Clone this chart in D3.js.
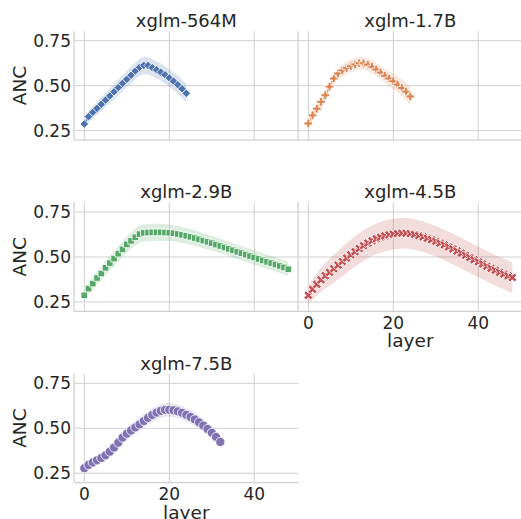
<!DOCTYPE html>
<html><head><meta charset="utf-8">
<script src="https://cdn.jsdelivr.net/npm/d3@7"></script>
<style>
body{margin:0;background:#fff}
svg{display:block}
text{font-family:"DejaVu Sans",sans-serif;fill:#262626}
</style>
</head><body>
<svg id="chart" width="521" height="519"></svg>
<script>
const models = ["xglm-564M","xglm-1.7B","xglm-2.9B","xglm-4.5B","xglm-7.5B"];
const colors = ["#4c72b0","#dd8452","#55a868","#c44e52","#8172b3"];
const markerTypes = ["diamond","plus","square","x","circle"];
const yTicks = [0.25,0.5,0.75];
const xTicks = [0,20,40];

const anc564M = [0.287,0.328,0.352,0.374,0.397,0.42,0.443,0.466,0.49,0.513,
  0.536,0.558,0.582,0.602,0.613,0.612,0.6,0.588,0.575,0.56,
  0.543,0.525,0.505,0.483,0.458];
const ci564M = [0.03,0.032,0.034,0.036,0.038,0.04,0.04,0.042,0.043,0.044,
  0.045,0.046,0.047,0.048,0.048,0.048,0.048,0.048,0.048,0.048,
  0.049,0.05,0.05,0.05,0.05];
const anc1_7B = [0.29,0.335,0.372,0.41,0.447,0.495,0.54,0.568,0.585,0.598,
  0.609,0.618,0.625,0.624,0.617,0.605,0.59,0.573,0.555,0.54,
  0.525,0.506,0.487,0.467,0.44];
const ci1_7B = [0.02,0.022,0.024,0.026,0.028,0.03,0.032,0.033,0.034,0.035,
  0.035,0.035,0.035,0.035,0.035,0.035,0.036,0.037,0.038,0.04,
  0.042,0.044,0.046,0.048,0.05];
const anc2_9B = [0.287,0.324,0.352,0.383,0.408,0.44,0.466,0.491,0.518,0.542,
  0.57,0.59,0.61,0.627,0.634,0.636,0.637,0.637,0.637,0.636,
  0.635,0.632,0.628,0.623,0.618,0.612,0.605,0.598,0.591,0.584,
  0.577,0.569,0.561,0.553,0.545,0.537,0.529,0.521,0.513,0.505,
  0.497,0.489,0.481,0.473,0.466,0.458,0.45,0.442,0.432];
const ci2_9B = [0.03,0.032,0.034,0.036,0.038,0.04,0.041,0.042,0.043,0.044,
  0.045,0.046,0.047,0.048,0.048,0.048,0.048,0.048,0.048,0.047,
  0.046,0.045,0.045,0.044,0.044,0.043,0.043,0.042,0.042,0.041,
  0.041,0.04,0.04,0.04,0.04,0.04,0.04,0.04,0.04,0.04,
  0.04,0.04,0.04,0.04,0.04,0.04,0.04,0.04,0.04];
const anc4_5B = [0.287,0.32,0.348,0.373,0.396,0.415,0.435,0.455,0.475,0.494,
  0.512,0.53,0.547,0.563,0.577,0.59,0.601,0.61,0.617,0.623,
  0.627,0.63,0.632,0.632,0.63,0.625,0.619,0.612,0.604,0.596,
  0.587,0.577,0.567,0.556,0.545,0.533,0.521,0.509,0.497,0.485,
  0.473,0.461,0.449,0.437,0.426,0.415,0.405,0.395,0.386];
const ci4_5B = [0.05,0.056,0.062,0.067,0.071,0.075,0.078,0.08,0.082,0.083,
  0.084,0.085,0.085,0.085,0.085,0.085,0.085,0.085,0.085,0.085,
  0.085,0.085,0.085,0.085,0.085,0.085,0.085,0.085,0.085,0.085,
  0.085,0.085,0.085,0.085,0.085,0.085,0.085,0.085,0.085,0.085,
  0.085,0.085,0.085,0.085,0.085,0.085,0.085,0.085,0.085];
const anc7_5B = [0.278,0.296,0.31,0.322,0.335,0.35,0.37,0.393,0.42,0.448,
  0.47,0.488,0.505,0.522,0.54,0.558,0.574,0.587,0.597,0.602,
  0.603,0.6,0.594,0.586,0.575,0.563,0.549,0.533,0.515,0.496,
  0.475,0.452,0.424];
const ci7_5B = [0.02,0.022,0.024,0.026,0.028,0.03,0.031,0.032,0.033,0.034,
  0.035,0.035,0.035,0.036,0.036,0.037,0.037,0.037,0.037,0.037,
  0.037,0.037,0.037,0.037,0.037,0.037,0.036,0.036,0.035,0.035,
  0.035,0.035,0.035];

const seriesMean = [anc564M, anc1_7B, anc2_9B, anc4_5B, anc7_5B];
const seriesCI = [ci564M, ci1_7B, ci2_9B, ci4_5B, ci7_5B];

// layout
const colX = [[74.1, 298.5], [298.1, 522.5]];
const rowTop = [31, 202.3, 373.6];
const panelH = 109;
const xDomain = [-2.4, 50.4];
const yDomain = [0.198, 0.804];
const grid = "#d0d0d0";

function markerPath(type) {
  if (type === "diamond") { const r = 4.3; return `M0,${-r}L${r},0L0,${r}L${-r},0Z`; }
  if (type === "square") { const s = 3.3; return `M${-s},${-s}H${s}V${s}H${-s}Z`; }
  if (type === "plus" || type === "x") {
    const a = type === "plus" ? 4.3 : 4.8, t = type === "plus" ? 1.45 : 1.55;
    return `M${-t},${-a}H${t}V${-t}H${a}V${t}H${t}V${a}H${-t}V${t}H${-a}V${-t}H${-t}Z`;
  }
  const r = 4.6;
  return `M${r},0A${r},${r} 0 1,1 ${-r},0A${r},${r} 0 1,1 ${r},0Z`;
}

const svg = d3.select("#chart");

models.forEach((name, i) => {
  const col = i % 2, row = Math.floor(i / 2);
  const x = d3.scaleLinear().domain(xDomain).range(colX[col]);
  const top = rowTop[row], bottom = top + panelH;
  const y = d3.scaleLinear().domain(yDomain).range([bottom, top]);
  const g = svg.append("g");
  const [x0, x1] = colX[col];

  // grid
  g.selectAll(".hg").data(yTicks).join("line")
    .attr("x1", x0).attr("x2", x1)
    .attr("y1", d => y(d)).attr("y2", d => y(d))
    .attr("stroke", grid).attr("stroke-width", 1);
  g.selectAll(".vg").data(xTicks).join("line")
    .attr("x1", d => x(d)).attr("x2", d => x(d))
    .attr("y1", top).attr("y2", bottom)
    .attr("stroke", grid).attr("stroke-width", 1);
  // spines
  g.append("line").attr("x1", x0).attr("x2", x0).attr("y1", top).attr("y2", bottom)
    .attr("stroke", grid).attr("stroke-width", 1.25);
  g.append("line").attr("x1", x0).attr("x2", x1).attr("y1", bottom).attr("y2", bottom)
    .attr("stroke", grid).attr("stroke-width", 1.25);

  // title
  g.append("text").attr("x", (x0 + x1) / 2).attr("y", top - 4)
    .attr("text-anchor", "middle").attr("font-size", 18).text(name);

  // y axis labels
  if (col === 0) {
    g.selectAll(".yt").data(yTicks).join("text")
      .attr("x", 71).attr("y", d => y(d)).attr("dy", "0.36em")
      .attr("text-anchor", "end").attr("font-size", 17)
      .text(d => d3.format(".2f")(d));
    g.append("text")
      .attr("transform", `translate(26,${(top + bottom) / 2}) rotate(-90)`)
      .attr("text-anchor", "middle").attr("font-size", 18.5).text("ANC");
  }
  // x axis labels
  if (name === "xglm-4.5B" || name === "xglm-7.5B") {
    g.selectAll(".xt").data(xTicks).join("text")
      .attr("x", d => x(d)).attr("y", bottom + 17.5)
      .attr("text-anchor", "middle").attr("font-size", 17).text(d => d);
    g.append("text").attr("x", (x0 + x1) / 2).attr("y", bottom + 36)
      .attr("text-anchor", "middle").attr("font-size", 18.5).text("layer");
  }

  const mean = seriesMean[i], ci = seriesCI[i];
  const pts = mean.map((v, k) => ({ k, v, c: ci[k] }));
  const area = d3.area().x(d => x(d.k)).y0(d => y(d.v - d.c)).y1(d => y(d.v + d.c));
  g.append("path").datum(pts).attr("d", area)
    .attr("fill", colors[i]).attr("fill-opacity", 0.2).attr("stroke", "none");
  const line = d3.line().x(d => x(d.k)).y(d => y(d.v));
  g.append("path").datum(pts).attr("d", line)
    .attr("fill", "none").attr("stroke", colors[i]).attr("stroke-width", 1.5);
  const mp = markerPath(markerTypes[i]);
  const rot = markerTypes[i] === "x" ? " rotate(45)" : "";
  g.selectAll(".mk").data(pts).join("path")
    .attr("d", mp)
    .attr("transform", d => `translate(${x(d.k)},${y(d.v)})${rot}`)
    .attr("fill", colors[i]).attr("stroke", "#fff").attr("stroke-width", 0.8);
});
</script>
</body></html>
